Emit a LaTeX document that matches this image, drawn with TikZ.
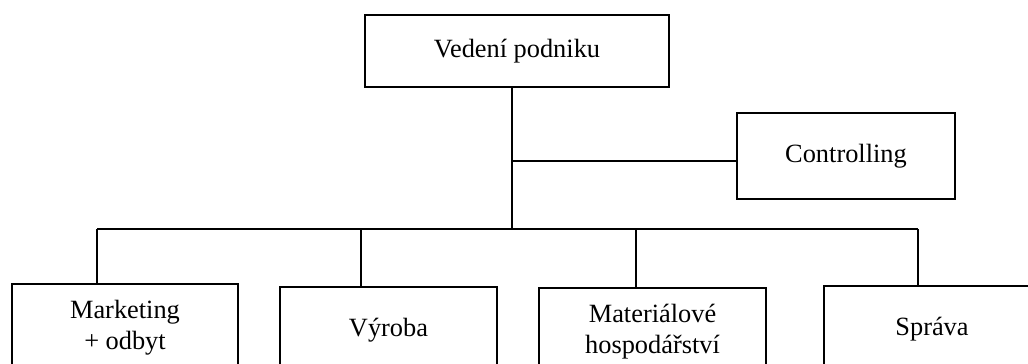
\documentclass[tikz,border=0pt]{standalone}
\usepackage{fontspec}
\setmainfont{Liberation Serif}
\usetikzlibrary{positioning}

\begin{document}
\begin{tikzpicture}[line width=0.8pt,
  unit/.style={draw,align=center,font=\fontsize{12}{14}\selectfont,inner sep=0pt},
  dept/.style={unit,anchor=north,minimum height=1.39cm}]
  \clip (0,0) rectangle (16.448,-5.808);
  \node[unit,minimum width=4.864cm,minimum height=1.152cm] (vedeni) at (8.272,-0.816) {Vedení podniku};
  \node[unit,minimum width=3.488cm,minimum height=1.376cm] (ctrl) at (13.536,-2.496) {Controlling};
  \node[dept,minimum width=3.616cm] (mkt) at (2.0,-4.528) {Marketing\\+ odbyt};
  \node[dept,minimum width=3.472cm] (vyr) at (6.216,-4.576) {Výroba};
  \node[dept,minimum width=3.632cm] (mat) at (10.44,-4.592) {Materiálové\\hospodářství};
  \node[dept,minimum width=3.456cm] (spr) at (14.912,-4.56) {Správa};
  \coordinate (hub) at (8.192,-3.664);
  \coordinate (tap) at (8.192,-2.576);
  \coordinate (left) at (1.552,-3.664);
  \coordinate (right) at (14.688,-3.664);
  \draw (hub |- vedeni.south) -- (hub);
  \draw (tap) -- (tap -| ctrl.west);
  \draw (left) -- (right);
  \draw (left) -- (left |- mkt.north);
  \draw (5.776,-3.664) -- (5.776,-3.664 |- vyr.north);
  \draw (10.176,-3.664) -- (10.176,-3.664 |- mat.north);
  \draw (right) -- (right |- spr.north);
\end{tikzpicture}
\end{document}
